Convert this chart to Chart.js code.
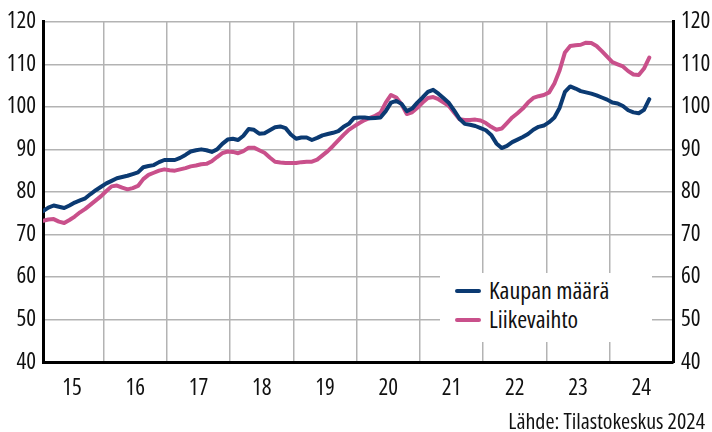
<!DOCTYPE html>
<html lang="fi">
<head>
<meta charset="utf-8">
<script src="https://cdn.jsdelivr.net/npm/chart.js@4.4.1/dist/chart.umd.min.js"></script>
<style>
  html, body { margin: 0; padding: 0; background: #fff; }
  #wrap { position: relative; width: 712px; height: 432px; font-family: 'Open Sans', 'Roboto Condensed', sans-serif; font-stretch: condensed; color: #111; }
  #legend { position: absolute; left: 440px; top: 273px; width: 212px; height: 69px; background: #fff; }
  .lg-line { position: absolute; left: 15px; width: 26px; height: 4px; border-radius: 2px; }
  .lg-text { position: absolute; left: 49px; font-size: 24px; line-height: 24px; }
  #source { position: absolute; right: 7px; top: 408px; font-size: 22px; line-height: 24px; }
</style>
</head>
<body>
<div id="wrap">
  <canvas id="chart" width="712" height="432"></canvas>
  <div id="legend">
    <span class="lg-line" style="top:16px;background:#0b3a72"></span><span class="lg-text" style="top:5px">Kaupan määrä</span>
    <span class="lg-line" style="top:45px;background:#c9508b"></span><span class="lg-text" style="top:34px">Liikevaihto</span>
  </div>
  <div id="source">Lähde: Tilastokeskus 2024</div>
</div>
<script>
// monthly index values, Jan 2015 -> Aug 2024
const START_YEAR = 2015;
const yearTicks  = [2016, 2017, 2018, 2019, 2020, 2021, 2022, 2023, 2024];
const yearLabels = ['15', '16', '17', '18', '19', '20', '21', '22', '23', '24'];
const yTicks     = [40, 50, 60, 70, 80, 90, 100, 110, 120];

const kaupanMaara = [
  75.5, 76.3, 76.8, 76.5, 76.2, 76.8, 77.5, 78, 78.5, 79.5, 80.4, 81.2,
  82, 82.6, 83.2, 83.5, 83.8, 84.2, 84.6, 85.8, 86.1, 86.3, 87, 87.5,
  87.5, 87.5, 88, 88.7, 89.5, 89.8, 90, 89.8, 89.4, 90, 91.3, 92.3,
  92.5, 92.2, 93.2, 94.8, 94.6, 93.7, 93.8, 94.5, 95.2, 95.4, 95, 93.5,
  92.5, 92.8, 92.8, 92.2, 92.7, 93.3, 93.6, 93.9, 94.3, 95.3, 96, 97.4,
  97.5, 97.5, 97.3, 97.4, 97.5, 99, 101, 101.4, 100.7, 99, 99.6, 101,
  102.2, 103.5, 104, 103.1, 102, 100.9, 99.1, 97.2, 96, 95.8, 95.5, 95,
  94.5, 93.4, 91.4, 90.3, 90.8, 91.7, 92.3, 92.9, 93.6, 94.6, 95.3, 95.6,
  96.4, 97.5, 99.8, 103.5, 104.8, 104.3, 103.7, 103.4, 103.1, 102.7, 102.2, 101.7,
  101, 100.8, 100.2, 99.2, 98.7, 98.5, 99.3, 101.8
];

const liikevaihto = [
  73.2, 73.5, 73.6, 73, 72.7, 73.4, 74.2, 75.2, 76, 77, 78, 79,
  80.2, 81.3, 81.5, 81, 80.6, 80.9, 81.4, 83, 84, 84.5, 85, 85.3,
  85.1, 85, 85.3, 85.6, 86, 86.2, 86.5, 86.6, 87.2, 88.2, 89.1, 89.5,
  89.4, 89.1, 89.6, 90.4, 90.4, 89.8, 89.2, 88.1, 87.1, 86.9, 86.8, 86.8,
  86.8, 87, 87.1, 87.1, 87.6, 88.6, 89.6, 90.8, 92.1, 93.4, 94.6, 95.4,
  96.2, 96.9, 97.4, 97.9, 98.6, 101, 102.8, 102.2, 100.6, 98.3, 98.7, 99.8,
  101, 102.1, 102.3, 101.8, 101, 100.2, 98.6, 97.1, 96.9, 96.9, 97, 96.8,
  96.2, 95.3, 94.6, 94.9, 96.2, 97.5, 98.5, 99.6, 101, 102.1, 102.5, 102.8,
  103.4, 105.5, 108.6, 112.8, 114.3, 114.5, 114.6, 115.1, 115, 114.3, 113.1, 111.8,
  110.5, 110, 109.5, 108.4, 107.6, 107.5, 109, 111.6
];

const BLUE = '#0b3a72';
const PINK = '#c9508b';
const GRID = '#b3b3b3';
// 'condensed' goes in the weight slot so the canvas font string asks for the narrow width
const TICK_FONT = { family: "'Open Sans'", weight: 'condensed', size: 23 };

const toPoints = arr => arr.map((v, i) => ({ x: START_YEAR + (i + 0.5) / 12, y: v }));

Chart.defaults.color = '#111';

const X_MIN = 2015.04, X_MAX = 2025;

new Chart(document.getElementById('chart'), {
  type: 'line',
  data: {
    datasets: [
      { label: 'Kaupan määrä', data: toPoints(kaupanMaara), borderColor: BLUE, borderWidth: 4, pointRadius: 0, tension: 0, borderJoinStyle: 'round', borderCapStyle: 'round' },
      { label: 'Liikevaihto',  data: toPoints(liikevaihto), borderColor: PINK, borderWidth: 4, pointRadius: 0, tension: 0, borderJoinStyle: 'round', borderCapStyle: 'round' },
    ],
  },
  options: {
    responsive: false, animation: false, events: [],
    layout: { padding: { top: 16, left: 0, right: 0, bottom: 0 } },
    plugins: { legend: { display: false }, tooltip: { enabled: false } },
    scales: {
      x: {
        type: 'linear', position: 'bottom', min: X_MIN, max: X_MAX,
        afterBuildTicks: s => { s.ticks = yearTicks.map(v => ({ value: v })); },
        afterFit: s => { s.height = 0; },
        ticks: { display: false },
        grid: { color: GRID, lineWidth: 1.5, drawTicks: false },
        border: { color: '#000', width: 3 },
      },
      xl: {
        type: 'linear', position: 'bottom', min: X_MIN, max: X_MAX,
        afterBuildTicks: s => { s.ticks = yearLabels.map((l, i) => ({ value: START_YEAR + i + 0.5 })); },
        afterFit: s => { s.height = 70; },
        ticks: { font: TICK_FONT, padding: 13, maxRotation: 0, autoSkip: false,
                 callback: (v, i) => yearLabels[i] },
        grid: { display: false, drawTicks: false },
        border: { display: false },
      },
      y: {
        position: 'left', min: 40, max: 120,
        afterBuildTicks: s => { s.ticks = yTicks.map(v => ({ value: v })); },
        afterFit: s => { s.width = 43; },
        ticks: { font: TICK_FONT, padding: 7 },
        grid: { color: GRID, lineWidth: 1.5, drawTicks: false },
        border: { color: '#000', width: 3 },
      },
      y2: {
        position: 'right', min: 40, max: 120,
        afterBuildTicks: s => { s.ticks = yTicks.map(v => ({ value: v })); },
        afterFit: s => { s.width = 39; },
        ticks: { font: TICK_FONT, padding: 8 },
        grid: { display: false, drawTicks: false },
        border: { color: '#000', width: 3 },
      },
    },
  },
});
</script>
</body>
</html>
